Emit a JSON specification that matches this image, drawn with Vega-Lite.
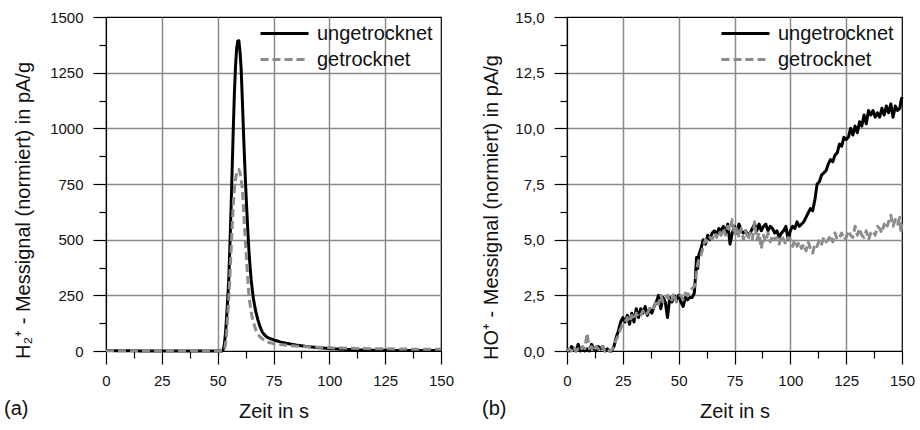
{
  "$schema": "https://vega.github.io/schema/vega-lite/v6.json",
  "background": "white",
  "padding": {"left": 3, "top": 9, "right": 5, "bottom": 5},
  "bounds": "flush",
  "spacing": 126,
  "config": {
    "font": "Liberation Sans",
    "view": {"stroke": "black", "strokeWidth": 1.2},
    "axis": {
      "labelFontSize": 15,
      "labelColor": "#111",
      "titleFontSize": 20,
      "titleFontWeight": "normal",
      "titleColor": "#111",
      "domainColor": "black",
      "domainWidth": 1.2,
      "tickColor": "black",
      "tickWidth": 1.2,
      "gridColor": "#8a8a8a",
      "gridWidth": 1.5
    },
    "legend": {
      "orient": "none",
      "legendX": 165,
      "legendY": 3,
      "padding": 0,
      "labelFontSize": 20,
      "labelColor": "#111",
      "symbolType": "M-2,0H2",
      "symbolSize": 576,
      "symbolStrokeWidth": 3,
      "labelOffset": 19,
      "rowPadding": 2,
      "labelLimit": 300
    },
    "title": {"fontSize": 20, "fontWeight": "normal", "color": "#111"}
  },
  "datasets": {
    "h2": [
      {"t": 0, "ungetrocknet": 2, "getrocknet": 1},
      {"t": 10, "ungetrocknet": 1, "getrocknet": 1},
      {"t": 20, "ungetrocknet": 0, "getrocknet": 0},
      {"t": 30, "ungetrocknet": 0, "getrocknet": 0},
      {"t": 40, "ungetrocknet": 0, "getrocknet": 1},
      {"t": 50, "ungetrocknet": 0, "getrocknet": 0},
      {"t": 52, "ungetrocknet": 0, "getrocknet": 0},
      {"t": 52.5, "ungetrocknet": 8, "getrocknet": 0},
      {"t": 53, "ungetrocknet": 30, "getrocknet": 5},
      {"t": 53.5, "ungetrocknet": 80, "getrocknet": 30},
      {"t": 54, "ungetrocknet": 150, "getrocknet": 80},
      {"t": 54.5, "ungetrocknet": 235, "getrocknet": 160},
      {"t": 55, "ungetrocknet": 330, "getrocknet": 240},
      {"t": 55.5, "ungetrocknet": 480, "getrocknet": 340},
      {"t": 56, "ungetrocknet": 640, "getrocknet": 450},
      {"t": 56.5, "ungetrocknet": 820, "getrocknet": 560},
      {"t": 57, "ungetrocknet": 1000, "getrocknet": 660},
      {"t": 57.5, "ungetrocknet": 1160, "getrocknet": 730},
      {"t": 58, "ungetrocknet": 1280, "getrocknet": 770},
      {"t": 58.5, "ungetrocknet": 1360, "getrocknet": 800},
      {"t": 59, "ungetrocknet": 1392, "getrocknet": 815},
      {"t": 59.5, "ungetrocknet": 1393, "getrocknet": 815},
      {"t": 60, "ungetrocknet": 1345, "getrocknet": 800},
      {"t": 60.5, "ungetrocknet": 1270, "getrocknet": 770},
      {"t": 61, "ungetrocknet": 1140, "getrocknet": 730},
      {"t": 61.5, "ungetrocknet": 1000, "getrocknet": 650},
      {"t": 62, "ungetrocknet": 870, "getrocknet": 560},
      {"t": 62.5, "ungetrocknet": 750, "getrocknet": 480},
      {"t": 63, "ungetrocknet": 640, "getrocknet": 400},
      {"t": 63.5, "ungetrocknet": 540, "getrocknet": 320},
      {"t": 64, "ungetrocknet": 450, "getrocknet": 250},
      {"t": 64.5, "ungetrocknet": 380, "getrocknet": 210},
      {"t": 65, "ungetrocknet": 320, "getrocknet": 175},
      {"t": 65.5, "ungetrocknet": 275, "getrocknet": 150},
      {"t": 66, "ungetrocknet": 235, "getrocknet": 130},
      {"t": 67, "ungetrocknet": 180, "getrocknet": 97},
      {"t": 68, "ungetrocknet": 140, "getrocknet": 76},
      {"t": 69, "ungetrocknet": 108, "getrocknet": 63},
      {"t": 70, "ungetrocknet": 85, "getrocknet": 55},
      {"t": 71, "ungetrocknet": 72, "getrocknet": 48},
      {"t": 72, "ungetrocknet": 63, "getrocknet": 42},
      {"t": 73, "ungetrocknet": 58, "getrocknet": 38},
      {"t": 75, "ungetrocknet": 50, "getrocknet": 33},
      {"t": 78, "ungetrocknet": 41, "getrocknet": 29},
      {"t": 80, "ungetrocknet": 36, "getrocknet": 27},
      {"t": 85, "ungetrocknet": 27, "getrocknet": 22},
      {"t": 90, "ungetrocknet": 20, "getrocknet": 19},
      {"t": 95, "ungetrocknet": 15, "getrocknet": 17},
      {"t": 100, "ungetrocknet": 11, "getrocknet": 15},
      {"t": 105, "ungetrocknet": 8, "getrocknet": 13},
      {"t": 110, "ungetrocknet": 6, "getrocknet": 12},
      {"t": 115, "ungetrocknet": 4, "getrocknet": 11},
      {"t": 120, "ungetrocknet": 3, "getrocknet": 10},
      {"t": 125, "ungetrocknet": 3, "getrocknet": 10},
      {"t": 130, "ungetrocknet": 2, "getrocknet": 9},
      {"t": 140, "ungetrocknet": 2, "getrocknet": 8},
      {"t": 150, "ungetrocknet": 2, "getrocknet": 8}
    ],
    "ho": [
      {"t": 0, "ungetrocknet": 0.1, "getrocknet": 0.0},
      {"t": 1, "ungetrocknet": 0.0, "getrocknet": 0.1},
      {"t": 2, "ungetrocknet": 0.2, "getrocknet": 0.0},
      {"t": 3, "ungetrocknet": 0.1, "getrocknet": 0.2},
      {"t": 4, "ungetrocknet": 0.0, "getrocknet": 0.0},
      {"t": 5, "ungetrocknet": 0.3, "getrocknet": 0.1},
      {"t": 6, "ungetrocknet": 0.0, "getrocknet": 0.0},
      {"t": 7, "ungetrocknet": 0.1, "getrocknet": 0.2},
      {"t": 8, "ungetrocknet": 0.0, "getrocknet": 0.1},
      {"t": 9, "ungetrocknet": 0.1, "getrocknet": 0.8},
      {"t": 10, "ungetrocknet": 0.0, "getrocknet": 0.1},
      {"t": 11, "ungetrocknet": 0.3, "getrocknet": 0.2},
      {"t": 12, "ungetrocknet": 0.1, "getrocknet": 0.0},
      {"t": 13, "ungetrocknet": 0.0, "getrocknet": 0.2},
      {"t": 14, "ungetrocknet": 0.2, "getrocknet": 0.1},
      {"t": 15, "ungetrocknet": 0.1, "getrocknet": 0.0},
      {"t": 16, "ungetrocknet": 0.2, "getrocknet": 0.2},
      {"t": 17, "ungetrocknet": 0.0, "getrocknet": 0.0},
      {"t": 18, "ungetrocknet": 0.1, "getrocknet": 0.1},
      {"t": 19, "ungetrocknet": 0.0, "getrocknet": 0.0},
      {"t": 20, "ungetrocknet": 0.0, "getrocknet": 0.05},
      {"t": 21, "ungetrocknet": 0.2, "getrocknet": 0.2},
      {"t": 22, "ungetrocknet": 0.6, "getrocknet": 0.5},
      {"t": 23, "ungetrocknet": 0.9, "getrocknet": 0.7},
      {"t": 24, "ungetrocknet": 1.3, "getrocknet": 1.0},
      {"t": 25, "ungetrocknet": 1.5, "getrocknet": 1.2},
      {"t": 26, "ungetrocknet": 1.3, "getrocknet": 1.3},
      {"t": 27, "ungetrocknet": 1.6, "getrocknet": 1.5},
      {"t": 28, "ungetrocknet": 1.2, "getrocknet": 1.3},
      {"t": 29, "ungetrocknet": 1.7, "getrocknet": 1.6},
      {"t": 30, "ungetrocknet": 1.3, "getrocknet": 1.4},
      {"t": 31, "ungetrocknet": 1.9, "getrocknet": 1.7},
      {"t": 32, "ungetrocknet": 1.5, "getrocknet": 1.5},
      {"t": 33, "ungetrocknet": 1.9, "getrocknet": 1.6},
      {"t": 34, "ungetrocknet": 1.7, "getrocknet": 1.8},
      {"t": 35, "ungetrocknet": 2.0, "getrocknet": 1.6},
      {"t": 36, "ungetrocknet": 1.6, "getrocknet": 1.7},
      {"t": 37, "ungetrocknet": 1.9, "getrocknet": 1.9},
      {"t": 38, "ungetrocknet": 1.7, "getrocknet": 1.8},
      {"t": 39, "ungetrocknet": 2.0, "getrocknet": 2.0},
      {"t": 40, "ungetrocknet": 2.2, "getrocknet": 2.3},
      {"t": 41, "ungetrocknet": 2.5, "getrocknet": 2.1},
      {"t": 42, "ungetrocknet": 1.9, "getrocknet": 2.5},
      {"t": 43, "ungetrocknet": 2.4, "getrocknet": 2.2},
      {"t": 44, "ungetrocknet": 2.2, "getrocknet": 2.3},
      {"t": 45, "ungetrocknet": 1.5, "getrocknet": 2.5},
      {"t": 46, "ungetrocknet": 2.4, "getrocknet": 2.2},
      {"t": 47, "ungetrocknet": 2.2, "getrocknet": 2.3},
      {"t": 48, "ungetrocknet": 2.5, "getrocknet": 2.6},
      {"t": 49, "ungetrocknet": 2.3, "getrocknet": 2.2},
      {"t": 50, "ungetrocknet": 2.5, "getrocknet": 2.4},
      {"t": 51, "ungetrocknet": 2.2, "getrocknet": 2.5},
      {"t": 52, "ungetrocknet": 2.0, "getrocknet": 2.3},
      {"t": 53, "ungetrocknet": 2.4, "getrocknet": 2.6},
      {"t": 54, "ungetrocknet": 2.3, "getrocknet": 2.5},
      {"t": 55, "ungetrocknet": 2.4, "getrocknet": 2.7},
      {"t": 56, "ungetrocknet": 2.4, "getrocknet": 2.8},
      {"t": 57, "ungetrocknet": 2.6, "getrocknet": 2.9},
      {"t": 57.5, "ungetrocknet": 3.3, "getrocknet": 3.0},
      {"t": 58, "ungetrocknet": 4.2, "getrocknet": 3.6},
      {"t": 58.5, "ungetrocknet": 3.7, "getrocknet": 3.9},
      {"t": 59, "ungetrocknet": 4.3, "getrocknet": 4.1},
      {"t": 60, "ungetrocknet": 4.6, "getrocknet": 4.3},
      {"t": 61, "ungetrocknet": 5.0, "getrocknet": 4.7},
      {"t": 62, "ungetrocknet": 4.8, "getrocknet": 5.0},
      {"t": 63, "ungetrocknet": 5.2, "getrocknet": 4.9},
      {"t": 64, "ungetrocknet": 5.0, "getrocknet": 5.1},
      {"t": 65, "ungetrocknet": 5.3, "getrocknet": 5.0},
      {"t": 66, "ungetrocknet": 5.4, "getrocknet": 5.3},
      {"t": 67, "ungetrocknet": 5.2, "getrocknet": 5.1},
      {"t": 68, "ungetrocknet": 5.5, "getrocknet": 5.4},
      {"t": 69, "ungetrocknet": 5.4, "getrocknet": 5.2},
      {"t": 70, "ungetrocknet": 5.6, "getrocknet": 5.5},
      {"t": 71, "ungetrocknet": 5.3, "getrocknet": 5.2},
      {"t": 72, "ungetrocknet": 5.7, "getrocknet": 5.6},
      {"t": 73, "ungetrocknet": 4.8, "getrocknet": 5.4},
      {"t": 74, "ungetrocknet": 5.3, "getrocknet": 5.9},
      {"t": 75, "ungetrocknet": 5.6, "getrocknet": 5.2},
      {"t": 76, "ungetrocknet": 5.3, "getrocknet": 5.6},
      {"t": 77, "ungetrocknet": 5.7, "getrocknet": 5.1},
      {"t": 78, "ungetrocknet": 5.4, "getrocknet": 5.5},
      {"t": 79, "ungetrocknet": 5.3, "getrocknet": 5.0},
      {"t": 80, "ungetrocknet": 5.4, "getrocknet": 5.4},
      {"t": 81, "ungetrocknet": 5.2, "getrocknet": 5.0},
      {"t": 82, "ungetrocknet": 5.3, "getrocknet": 5.3},
      {"t": 83, "ungetrocknet": 5.5, "getrocknet": 5.0},
      {"t": 84, "ungetrocknet": 5.7, "getrocknet": 5.8},
      {"t": 85, "ungetrocknet": 5.4, "getrocknet": 5.0},
      {"t": 86, "ungetrocknet": 5.7, "getrocknet": 5.3},
      {"t": 87, "ungetrocknet": 5.4, "getrocknet": 4.6},
      {"t": 88, "ungetrocknet": 5.6, "getrocknet": 5.2},
      {"t": 89, "ungetrocknet": 5.7, "getrocknet": 4.9},
      {"t": 90, "ungetrocknet": 5.4, "getrocknet": 5.3},
      {"t": 91, "ungetrocknet": 5.6, "getrocknet": 4.9},
      {"t": 92, "ungetrocknet": 5.5, "getrocknet": 5.2},
      {"t": 93, "ungetrocknet": 5.3, "getrocknet": 5.0},
      {"t": 94, "ungetrocknet": 5.4, "getrocknet": 5.1},
      {"t": 95, "ungetrocknet": 5.1, "getrocknet": 4.8},
      {"t": 96, "ungetrocknet": 5.3, "getrocknet": 5.2},
      {"t": 97, "ungetrocknet": 5.4, "getrocknet": 5.0},
      {"t": 98, "ungetrocknet": 5.6, "getrocknet": 4.8},
      {"t": 99, "ungetrocknet": 5.0, "getrocknet": 5.1},
      {"t": 100, "ungetrocknet": 5.4, "getrocknet": 5.0},
      {"t": 101, "ungetrocknet": 5.6, "getrocknet": 4.7},
      {"t": 102, "ungetrocknet": 5.5, "getrocknet": 5.0},
      {"t": 103, "ungetrocknet": 5.8, "getrocknet": 4.7},
      {"t": 104, "ungetrocknet": 5.6, "getrocknet": 4.9},
      {"t": 105, "ungetrocknet": 5.7, "getrocknet": 4.6},
      {"t": 106, "ungetrocknet": 5.8, "getrocknet": 4.8},
      {"t": 107, "ungetrocknet": 6.0, "getrocknet": 4.5},
      {"t": 108, "ungetrocknet": 6.2, "getrocknet": 4.9},
      {"t": 109, "ungetrocknet": 6.4, "getrocknet": 4.6},
      {"t": 110, "ungetrocknet": 6.3, "getrocknet": 4.4},
      {"t": 111, "ungetrocknet": 6.8, "getrocknet": 4.8},
      {"t": 112, "ungetrocknet": 7.5, "getrocknet": 4.7},
      {"t": 113, "ungetrocknet": 7.6, "getrocknet": 5.0},
      {"t": 114, "ungetrocknet": 7.9, "getrocknet": 4.8},
      {"t": 115, "ungetrocknet": 8.0, "getrocknet": 5.1},
      {"t": 116, "ungetrocknet": 8.1, "getrocknet": 4.9},
      {"t": 117, "ungetrocknet": 8.4, "getrocknet": 5.0},
      {"t": 118, "ungetrocknet": 8.6, "getrocknet": 5.2},
      {"t": 119, "ungetrocknet": 8.5, "getrocknet": 4.9},
      {"t": 120, "ungetrocknet": 8.8, "getrocknet": 5.3},
      {"t": 121, "ungetrocknet": 8.9, "getrocknet": 5.0},
      {"t": 122, "ungetrocknet": 9.3, "getrocknet": 5.1},
      {"t": 123, "ungetrocknet": 9.2, "getrocknet": 5.3},
      {"t": 124, "ungetrocknet": 9.6, "getrocknet": 5.0},
      {"t": 125, "ungetrocknet": 9.5, "getrocknet": 5.1},
      {"t": 126, "ungetrocknet": 9.6, "getrocknet": 5.4},
      {"t": 127, "ungetrocknet": 10.0, "getrocknet": 5.2},
      {"t": 128, "ungetrocknet": 9.7, "getrocknet": 5.1},
      {"t": 129, "ungetrocknet": 10.1, "getrocknet": 5.6},
      {"t": 130, "ungetrocknet": 9.8, "getrocknet": 5.2},
      {"t": 131, "ungetrocknet": 10.3, "getrocknet": 5.5},
      {"t": 132, "ungetrocknet": 10.1, "getrocknet": 5.2},
      {"t": 133, "ungetrocknet": 10.6, "getrocknet": 5.1},
      {"t": 134, "ungetrocknet": 10.2, "getrocknet": 5.4},
      {"t": 135, "ungetrocknet": 10.8, "getrocknet": 5.0},
      {"t": 136, "ungetrocknet": 10.6, "getrocknet": 5.3},
      {"t": 137, "ungetrocknet": 10.8, "getrocknet": 5.4},
      {"t": 138, "ungetrocknet": 10.5, "getrocknet": 5.2},
      {"t": 139, "ungetrocknet": 10.7, "getrocknet": 5.6},
      {"t": 140, "ungetrocknet": 10.5, "getrocknet": 5.5},
      {"t": 141, "ungetrocknet": 10.9, "getrocknet": 5.3},
      {"t": 142, "ungetrocknet": 10.6, "getrocknet": 5.7},
      {"t": 143, "ungetrocknet": 11.0, "getrocknet": 5.5},
      {"t": 144, "ungetrocknet": 10.7, "getrocknet": 5.8},
      {"t": 145, "ungetrocknet": 11.1, "getrocknet": 6.1},
      {"t": 146, "ungetrocknet": 10.5, "getrocknet": 5.6},
      {"t": 147, "ungetrocknet": 11.0, "getrocknet": 5.9},
      {"t": 148, "ungetrocknet": 10.8, "getrocknet": 5.7},
      {"t": 149, "ungetrocknet": 10.9, "getrocknet": 6.0},
      {"t": 149.5, "ungetrocknet": 11.2, "getrocknet": 5.3},
      {"t": 150, "ungetrocknet": 11.4, "getrocknet": 5.8}
    ]
  },
  "hconcat": [
    {
      "width": 335,
      "height": 334,
      "title": {"text": "(a)", "orient": "bottom", "anchor": "start", "frame": "group", "dx": -102, "offset": -22},
      "data": {"name": "h2"},
      "transform": [{"fold": ["ungetrocknet", "getrocknet"], "as": ["s", "v"]}],
      "mark": {"type": "line", "strokeWidth": 3, "strokeJoin": "round"},
      "encoding": {
        "x": {
          "field": "t", "type": "quantitative",
          "scale": {"domain": [0, 150], "nice": false},
          "axis": {
            "title": "Zeit in s",
            "values": [0, 12.5, 25, 37.5, 50, 62.5, 75, 87.5, 100, 112.5, 125, 137.5, 150],
            "labelExpr": "datum.value % 25 === 0 ? datum.label : ''",
            "tickSize": {"condition": {"test": "datum.value % 25 === 0", "value": 13}, "value": 7},
            "gridOpacity": {"condition": {"test": "datum.value % 25 === 0 && datum.value > 0 && datum.value < 150", "value": 1}, "value": 0},
            "labelPadding": 9,
            "titlePadding": 13,
            "labelFlush": false
          }
        },
        "y": {
          "field": "v", "type": "quantitative",
          "scale": {"domain": [0, 1500], "nice": false},
          "axis": {
            "title": "H₂⁺ - Messignal (normiert) in pA/g",
            "titleY": 193,
            "values": [0, 125, 250, 375, 500, 625, 750, 875, 1000, 1125, 1250, 1375, 1500],
            "labelExpr": "datum.value % 250 === 0 ? format(datum.value, 'd') : ''",
            "tickSize": {"condition": {"test": "datum.value % 250 === 0", "value": 13}, "value": 7},
            "gridOpacity": {"condition": {"test": "datum.value % 250 === 0 && datum.value > 0 && datum.value < 1500", "value": 1}, "value": 0},
            "labelPadding": 10,
            "titlePadding": 16,
            "labelFlush": false
          }
        },
        "color": {
          "field": "s", "type": "nominal",
          "scale": {"domain": ["ungetrocknet", "getrocknet"], "range": ["#000000", "#8c8c8c"]},
          "legend": {"title": null}
        },
        "strokeDash": {
          "field": "s", "type": "nominal",
          "scale": {"domain": ["ungetrocknet", "getrocknet"], "range": [[1, 0], [8, 4]]},
          "legend": {"title": null}
        }
      }
    },
    {
      "width": 335,
      "height": 334,
      "title": {"text": "(b)", "orient": "bottom", "anchor": "start", "frame": "group", "dx": -85, "offset": -22},
      "data": {"name": "ho"},
      "transform": [{"fold": ["ungetrocknet", "getrocknet"], "as": ["s", "v"]}],
      "mark": {"type": "line", "strokeWidth": 3, "strokeJoin": "round"},
      "encoding": {
        "x": {
          "field": "t", "type": "quantitative",
          "scale": {"domain": [0, 150], "nice": false},
          "axis": {
            "title": "Zeit in s",
            "values": [0, 12.5, 25, 37.5, 50, 62.5, 75, 87.5, 100, 112.5, 125, 137.5, 150],
            "labelExpr": "datum.value % 25 === 0 ? datum.label : ''",
            "tickSize": {"condition": {"test": "datum.value % 25 === 0", "value": 13}, "value": 7},
            "gridOpacity": {"condition": {"test": "datum.value % 25 === 0 && datum.value > 0 && datum.value < 150", "value": 1}, "value": 0},
            "labelPadding": 9,
            "titlePadding": 13,
            "labelFlush": false
          }
        },
        "y": {
          "field": "v", "type": "quantitative",
          "scale": {"domain": [0, 15], "nice": false},
          "axis": {
            "title": "HO⁺ - Messignal (normiert) in pA/g",
            "titleY": 190,
            "values": [0, 1.25, 2.5, 3.75, 5, 6.25, 7.5, 8.75, 10, 11.25, 12.5, 13.75, 15],
            "labelExpr": "datum.value % 2.5 === 0 ? replace(format(datum.value, '.1f'), '.', ',') : ''",
            "tickSize": {"condition": {"test": "datum.value % 2.5 === 0", "value": 13}, "value": 7},
            "gridOpacity": {"condition": {"test": "datum.value % 2.5 === 0 && datum.value > 0 && datum.value < 15", "value": 1}, "value": 0},
            "labelPadding": 10,
            "titlePadding": 13,
            "labelFlush": false
          }
        },
        "color": {
          "field": "s", "type": "nominal",
          "scale": {"domain": ["ungetrocknet", "getrocknet"], "range": ["#000000", "#8c8c8c"]},
          "legend": {"title": null}
        },
        "strokeDash": {
          "field": "s", "type": "nominal",
          "scale": {"domain": ["ungetrocknet", "getrocknet"], "range": [[1, 0], [8, 4]]},
          "legend": {"title": null}
        }
      }
    }
  ],
  "resolve": {
    "scale": {"color": "independent", "strokeDash": "independent", "x": "independent", "y": "independent"},
    "legend": {"color": "independent", "strokeDash": "independent"}
  }
}
